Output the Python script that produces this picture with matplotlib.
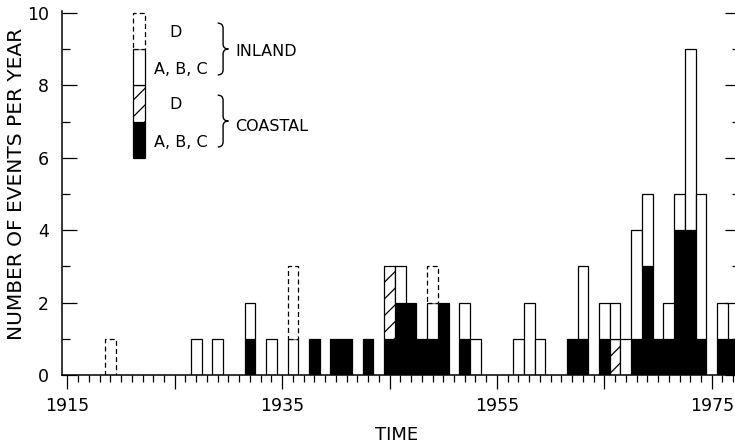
import matplotlib
matplotlib.use('Agg')
import matplotlib.pyplot as plt
import numpy as np
from matplotlib.path import Path
from matplotlib.patches import PathPatch
from matplotlib.ticker import FixedLocator, MultipleLocator, FuncFormatter

plt.rcParams['font.family'] = ['DejaVu Sans']
plt.rcParams['hatch.linewidth'] = 0.9

years = np.arange(1915, 1978)

# events per year, one row per decade (1915-24, 1925-34, ...)
coastal_abc = np.array([0, 0, 0, 0, 0, 0, 0, 0, 0, 0,
                        0, 0, 0, 0, 0, 0, 0, 1, 0, 0,
                        0, 0, 0, 1, 0, 1, 1, 0, 1, 0,
                        1, 2, 2, 1, 1, 2, 0, 1, 0, 0,
                        0, 0, 0, 0, 0, 0, 0, 1, 1, 0,
                        1, 0, 0, 1, 3, 1, 1, 4, 4, 1,
                        0, 1, 1])
coastal_d = np.array([0, 0, 0, 0, 0, 0, 0, 0, 0, 0,
                      0, 0, 0, 0, 0, 0, 0, 0, 0, 0,
                      0, 0, 0, 0, 0, 0, 0, 0, 0, 0,
                      2, 0, 0, 0, 0, 0, 0, 0, 0, 0,
                      0, 0, 0, 0, 0, 0, 0, 0, 0, 0,
                      0, 1, 0, 0, 0, 0, 0, 0, 0, 0,
                      0, 0, 0])
inland_abc = np.array([0, 0, 0, 0, 0, 0, 0, 0, 0, 0,
                       0, 0, 1, 0, 1, 0, 0, 1, 0, 1,
                       0, 1, 0, 0, 0, 0, 0, 0, 0, 0,
                       0, 1, 0, 0, 1, 0, 0, 1, 1, 0,
                       0, 0, 1, 2, 1, 0, 0, 0, 2, 0,
                       1, 1, 1, 3, 2, 0, 1, 1, 5, 4,
                       0, 1, 0])
inland_d = np.array([0, 0, 0, 0, 1, 0, 0, 0, 0, 0,
                     0, 0, 0, 0, 0, 0, 0, 0, 0, 0,
                     0, 2, 0, 0, 0, 0, 0, 0, 0, 0,
                     0, 0, 0, 0, 1, 0, 0, 0, 0, 0,
                     0, 0, 0, 0, 0, 0, 0, 0, 0, 0,
                     0, 0, 0, 0, 0, 0, 0, 0, 0, 0,
                     0, 0, 0])

decade_ticks = [1915, 1925, 1935, 1945, 1955, 1965, 1975]
labelled = [1915, 1935, 1955, 1975]

W, H = 735, 447
fig = plt.figure(figsize=(W / 100, H / 100), dpi=100)
ax = fig.add_axes([62.3 / W, 72 / H, (740 - 62.3) / W, (375 - 11.2) / H])

lw = 0.9
dash = (0, (4, 2.5))
hatch = '//'


def stacked(vals, bottom, **kw):
    m = vals > 0
    ax.bar(years[m], vals[m], bottom=bottom[m], width=1, linewidth=lw, **kw)


b0 = np.zeros_like(coastal_abc)
stacked(coastal_abc, b0, color='black', edgecolor='black')
b1 = b0 + coastal_abc
stacked(coastal_d, b1, facecolor='white', edgecolor='black', hatch=hatch)
b2 = b1 + coastal_d
stacked(inland_abc, b2, facecolor='white', edgecolor='black')
b3 = b2 + inland_abc
stacked(inland_d, b3, facecolor='white', edgecolor='black', linestyle=dash)

# legend key drawn as a small stack
kx = 1921.7
kw_ = 1.09
ax.bar(kx, 1, bottom=6, width=kw_, color='black', edgecolor='black', linewidth=lw)
ax.bar(kx, 1, bottom=7, width=kw_, facecolor='white', edgecolor='black', hatch=hatch, linewidth=lw)
ax.bar(kx, 1, bottom=8, width=kw_, facecolor='white', edgecolor='black', linewidth=lw)
ax.bar(kx, 1, bottom=9, width=kw_, facecolor='white', edgecolor='black', linewidth=lw, linestyle=dash)


def brace(x0, x1, y0, y1):
    xm = (x0 + x1) / 2
    ym = (y0 + y1) / 2
    d = 0.14
    verts = [(x0, y1), (xm, y1), (xm, y1 - d),
             (xm, ym + d),
             (xm, ym), (x1, ym),
             (xm, ym), (xm, ym - d),
             (xm, y0 + d),
             (xm, y0), (x0, y0)]
    codes = [Path.MOVETO, Path.CURVE3, Path.CURVE3,
             Path.LINETO,
             Path.CURVE3, Path.CURVE3,
             Path.CURVE3, Path.CURVE3,
             Path.LINETO,
             Path.CURVE3, Path.CURVE3]
    ax.add_patch(PathPatch(Path(verts, codes), facecolor='none',
                           edgecolor='black', linewidth=1.0, clip_on=False))


brace(1929.0, 1930.0, 8.29, 9.72)
brace(1929.0, 1930.0, 6.30, 7.73)

tfs = 11.5
ax.text(1925.1, 9.45, 'D', ha='center', va='center', fontsize=tfs)
ax.text(1925.6, 8.45, 'A, B, C', ha='center', va='center', fontsize=tfs)
ax.text(1930.6, 8.95, 'INLAND', ha='left', va='center', fontsize=tfs)
ax.text(1925.1, 7.46, 'D', ha='center', va='center', fontsize=tfs)
ax.text(1925.6, 6.41, 'A, B, C', ha='center', va='center', fontsize=tfs)
ax.text(1930.6, 6.87, 'COASTAL', ha='left', va='center', fontsize=tfs)

ax.set_xlim(1914.53, 1977.63)
ax.set_ylim(0, 10.05)

ax.spines['top'].set_visible(False)
for s in ax.spines.values():
    s.set_linewidth(1.1)

ax.xaxis.set_major_locator(FixedLocator(decade_ticks))
ax.xaxis.set_minor_locator(MultipleLocator(1))
ax.xaxis.set_major_formatter(FuncFormatter(
    lambda v, p: str(int(round(v))) if int(round(v)) in labelled else ''))
ax.tick_params(axis='x', which='major', direction='out', length=10, width=0.9,
               pad=5.5, labelsize=12.5)
ax.tick_params(axis='x', which='minor', direction='out', length=5, width=0.9)

ax.yaxis.set_major_locator(MultipleLocator(2))
ax.yaxis.set_minor_locator(MultipleLocator(1))
ax.tick_params(axis='y', which='major', direction='in', length=11, width=0.9,
               pad=9.5, labelsize=12.5, right=True)
ax.tick_params(axis='y', which='minor', direction='in', length=5.5, width=0.9,
               right=True)

fig.text(17 / W, 1 - 184 / H, 'NUMBER OF EVENTS PER YEAR', rotation=90,
         ha='center', va='center', fontsize=14.5)
fig.text(397 / W, 1 - 435 / H, 'TIME', ha='center', va='center', fontsize=13)

fig.savefig('out.png', dpi=100)
